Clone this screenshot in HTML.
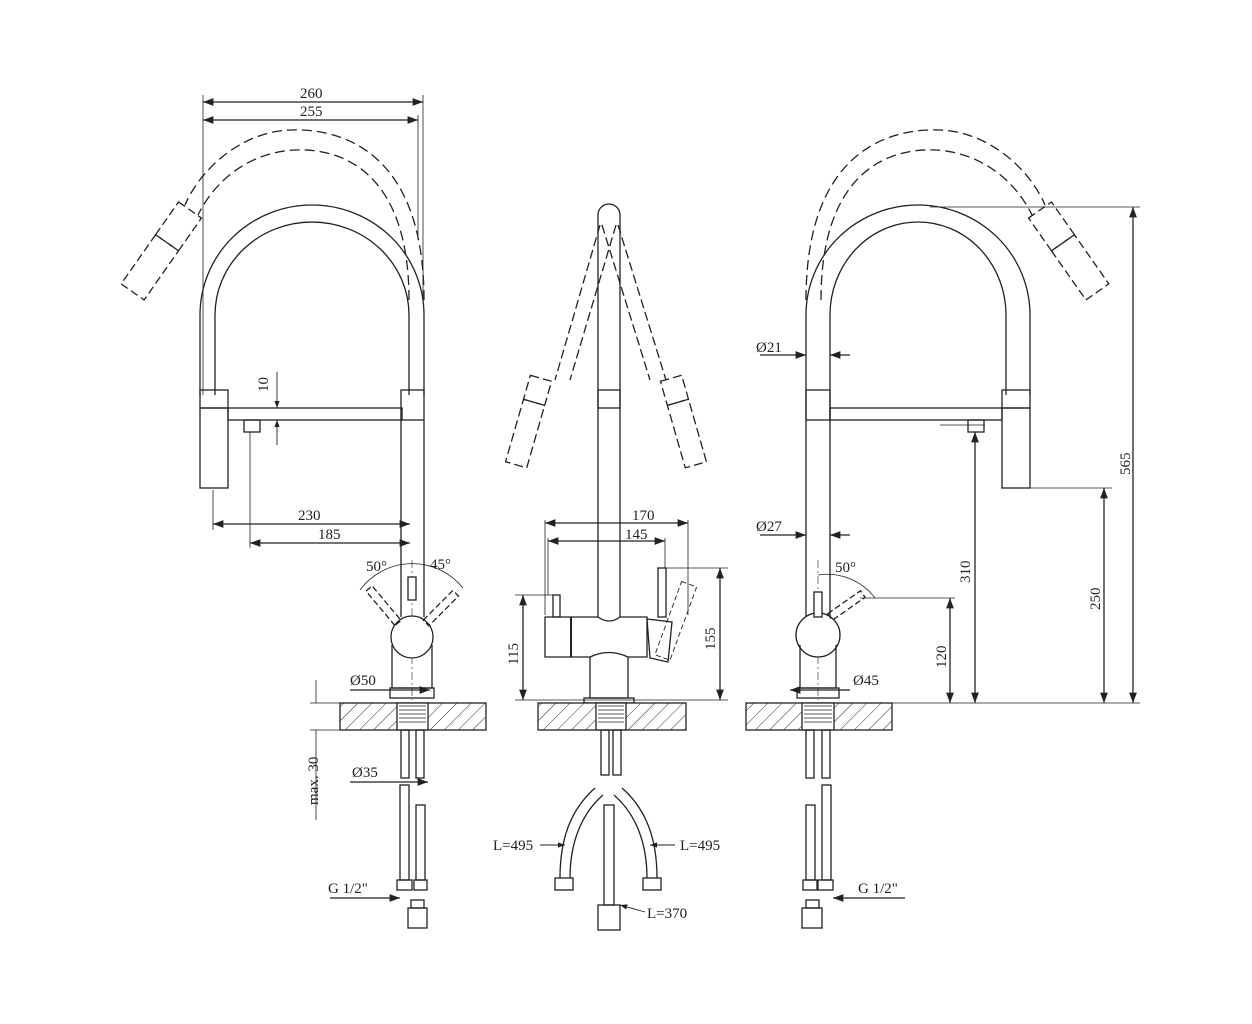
<!DOCTYPE html>
<html><head><meta charset="utf-8"><style>
html,body{margin:0;padding:0;background:#fff;}
svg{display:block;}
text{font-family:"Liberation Serif",serif;font-size:15px;fill:#222;}
</style></head><body>
<svg width="1252" height="1024" viewBox="0 0 1252 1024" xmlns="http://www.w3.org/2000/svg">
<defs>
<pattern id="h" width="10" height="10" patternUnits="userSpaceOnUse" patternTransform="rotate(45)">
<rect width="10" height="10" fill="#fff"/><line x1="0" y1="0" x2="0" y2="10" stroke="#333" stroke-width="1"/>
</pattern>
<marker id="a" markerWidth="8" markerHeight="6" refX="8" refY="3" orient="auto-start-reverse"><path d="M0,0 L8,3 L0,6" fill="#222"/></marker>
</defs>
<g fill="none" stroke="#222" stroke-width="1.3">

<!-- ================= LEFT VIEW ================= -->
<line x1="203" y1="102" x2="423" y2="102" marker-start="url(#a)" marker-end="url(#a)"/>
<line x1="203" y1="120" x2="418" y2="120" marker-start="url(#a)" marker-end="url(#a)"/>
<line x1="203" y1="95" x2="203" y2="395" stroke-width="0.8"/>
<line x1="423" y1="95" x2="423" y2="300" stroke-width="0.8"/>
<line x1="418" y1="115" x2="418" y2="240" stroke-width="0.8"/>
<path d="M200,395 L200,315 A112,110 0 0 1 424,315 L424,395"/>
<path d="M215,395 L215,315 A97,93 0 0 1 409,315 L409,395"/>
<path d="M424,300 C424,150 340,128 290,130 C240,132 200,170 185,205" stroke-dasharray="10,5"/>
<path d="M409,300 C409,170 340,148 295,150 C250,152 215,180 198,215" stroke-dasharray="10,5"/>
<g transform="translate(190,210) rotate(35)" stroke-dasharray="8,4"><rect x="-14" y="0" width="28" height="40"/><rect x="-14" y="40" width="28" height="60"/></g>
<rect x="200" y="390" width="28" height="18"/>
<rect x="200" y="408" width="28" height="80"/>
<rect x="228" y="408" width="174" height="12"/>
<rect x="244" y="420" width="16" height="12"/>
<rect x="401" y="390" width="23" height="30"/>
<line x1="401" y1="420" x2="401" y2="617"/>
<line x1="424" y1="420" x2="424" y2="617"/>
<line x1="412" y1="560" x2="412" y2="700" stroke-width="0.6" stroke-dasharray="8,3,2,3"/>
<line x1="277" y1="372" x2="277" y2="408" marker-end="url(#a)" stroke-width="0.9"/>
<line x1="277" y1="445" x2="277" y2="420" marker-end="url(#a)" stroke-width="0.9"/>
<line x1="213" y1="490" x2="213" y2="530" stroke-width="0.8"/>
<line x1="250" y1="432" x2="250" y2="548" stroke-width="0.8"/>
<line x1="213" y1="524" x2="410" y2="524" marker-start="url(#a)" marker-end="url(#a)"/>
<line x1="250" y1="543" x2="410" y2="543" marker-start="url(#a)" marker-end="url(#a)"/>
<circle cx="412" cy="637" r="21" fill="#fff"/>
<rect x="408" y="577" width="8" height="23" fill="#fff"/>
<path d="M392,645 L392,688 L432,688 L432,645"/>
<rect x="390" y="688" width="44" height="10"/>
<path d="M360,590 A65,65 0 0 1 463,588" stroke-width="0.8"/>
<g transform="translate(398,623) rotate(-130)"><rect x="0" y="-4" width="45" height="8" stroke-dasharray="6,3"/></g>
<g transform="translate(426,623) rotate(-45)"><rect x="0" y="-4" width="42" height="8" stroke-dasharray="6,3"/></g>
<rect x="340" y="703" width="146" height="27" fill="url(#h)"/>
<rect x="397" y="703" width="31" height="27" fill="#fff"/>
<path d="M399,706 h27 M399,710 h27 M399,714 h27 M399,718 h27 M399,722 h27" stroke-width="0.8"/>
<rect x="401" y="730" width="8" height="48"/><rect x="416" y="730" width="8" height="48"/>
<line x1="316" y1="680" x2="316" y2="703" stroke-width="0.8"/>
<line x1="310" y1="703" x2="340" y2="703" stroke-width="0.8"/>
<line x1="310" y1="730" x2="340" y2="730" stroke-width="0.8"/>
<line x1="316" y1="730" x2="316" y2="820" stroke-width="0.8"/>
<line x1="350" y1="690" x2="430" y2="690" marker-end="url(#a)"/>
<line x1="350" y1="782" x2="428" y2="782" marker-end="url(#a)"/>
<rect x="400" y="785" width="9" height="95"/><rect x="416" y="805" width="9" height="75"/>
<rect x="397" y="880" width="15" height="10"/><rect x="414" y="880" width="13" height="10"/>
<rect x="411" y="900" width="13" height="8"/><rect x="408" y="908" width="19" height="20"/>
<line x1="330" y1="898" x2="400" y2="898" marker-end="url(#a)"/>

<!-- ================= MIDDLE VIEW ================= -->
<path d="M598,617 L598,215 A11,11 0 0 1 620,215 L620,617"/>
<rect x="598" y="390" width="22" height="18"/>
<g stroke-dasharray="9,4">
<line x1="600" y1="225" x2="555" y2="380"/><line x1="616" y1="225" x2="570" y2="380"/>
<line x1="602" y1="225" x2="650" y2="380"/><line x1="618" y1="225" x2="666" y2="380"/>
<g transform="translate(540,378) rotate(16)"><rect x="-10" y="0" width="22" height="25"/><rect x="-10" y="25" width="22" height="65"/></g>
<g transform="translate(672,378) rotate(-16)"><rect x="-12" y="0" width="22" height="25"/><rect x="-12" y="25" width="22" height="65"/></g>
</g>
<path d="M545,617 L598,617 Q609,625 620,617 L647,617 L647,657 L628,657 Q609,648 590,657 L545,657 Z" fill="#fff"/>
<line x1="571" y1="617" x2="571" y2="657" stroke-width="2"/>
<rect x="553" y="595" width="7" height="22"/>
<rect x="658" y="568" width="8" height="49"/>
<path d="M647,619 L672,622 L668,662 L650,658 Z"/>
<g transform="translate(658,658) rotate(20)"><rect x="-4" y="-80" width="16" height="78" stroke-dasharray="5,3" stroke-width="0.9"/></g>
<path d="M590,657 L590,698 L628,698 L628,657"/>
<rect x="584" y="698" width="50" height="5"/>
<rect x="538" y="703" width="148" height="27" fill="url(#h)"/>
<rect x="596" y="703" width="30" height="27" fill="#fff"/>
<path d="M598,706 h26 M598,710 h26 M598,714 h26 M598,718 h26 M598,722 h26" stroke-width="0.8"/>
<rect x="601" y="730" width="8" height="45"/><rect x="613" y="730" width="8" height="45"/>
<line x1="545" y1="520" x2="545" y2="615" stroke-width="0.8"/><line x1="688" y1="520" x2="688" y2="615" stroke-width="0.8"/>
<line x1="548" y1="538" x2="548" y2="595" stroke-width="0.8"/><line x1="665" y1="538" x2="665" y2="568" stroke-width="0.8"/>
<line x1="545" y1="523" x2="688" y2="523" marker-start="url(#a)" marker-end="url(#a)"/>
<line x1="548" y1="541" x2="665" y2="541" marker-start="url(#a)" marker-end="url(#a)"/>
<line x1="523" y1="595" x2="523" y2="700" marker-start="url(#a)" marker-end="url(#a)"/>
<line x1="720" y1="568" x2="720" y2="700" marker-start="url(#a)" marker-end="url(#a)"/>
<line x1="515" y1="595" x2="553" y2="595" stroke-width="0.8"/>
<line x1="666" y1="568" x2="728" y2="568" stroke-width="0.8"/>
<line x1="515" y1="700" x2="728" y2="700" stroke-width="0.8"/>
<path d="M595,788 C570,810 560,840 560,878"/><path d="M603,795 C580,815 570,845 570,878"/>
<path d="M622,788 C647,810 657,840 657,878"/><path d="M614,795 C637,815 647,845 647,878"/>
<rect x="604" y="805" width="10" height="100"/>
<rect x="555" y="878" width="18" height="12"/><rect x="643" y="878" width="18" height="12"/>
<rect x="598" y="905" width="22" height="25"/>
<line x1="540" y1="845" x2="565" y2="845" marker-end="url(#a)" stroke-width="0.9"/>
<line x1="675" y1="845" x2="650" y2="845" marker-end="url(#a)" stroke-width="0.9"/>
<line x1="645" y1="912" x2="620" y2="905" marker-end="url(#a)" stroke-width="0.9"/>

<!-- ================= RIGHT VIEW ================= -->
<path d="M806,617 L806,315 A112,110 0 0 1 1030,315 L1030,395"/>
<path d="M830,617 L830,315 A88,93 0 0 1 1006,315 L1006,395"/>
<path d="M806,300 C806,150 890,128 940,130 C990,132 1030,170 1045,205" stroke-dasharray="10,5"/>
<path d="M821,300 C821,170 890,148 935,150 C980,152 1015,180 1032,215" stroke-dasharray="10,5"/>
<g transform="translate(1040,210) rotate(-35)" stroke-dasharray="8,4"><rect x="-14" y="0" width="28" height="40"/><rect x="-14" y="40" width="28" height="60"/></g>
<rect x="806" y="390" width="24" height="30"/>
<rect x="1002" y="390" width="28" height="18"/>
<rect x="1002" y="408" width="28" height="80"/>
<rect x="830" y="408" width="172" height="12"/>
<rect x="968" y="420" width="16" height="12"/>
<line x1="760" y1="355" x2="806" y2="355" marker-end="url(#a)"/><line x1="850" y1="355" x2="830" y2="355" marker-end="url(#a)"/>
<line x1="760" y1="535" x2="806" y2="535" marker-end="url(#a)"/><line x1="850" y1="535" x2="830" y2="535" marker-end="url(#a)"/>
<line x1="818" y1="560" x2="818" y2="700" stroke-width="0.6" stroke-dasharray="8,3,2,3"/>
<circle cx="818" cy="635" r="22" fill="#fff"/>
<rect x="814" y="592" width="8" height="25" fill="#fff"/>
<path d="M800,645 L800,688 L836,688 L836,645"/>
<rect x="797" y="688" width="42" height="10"/>
<path d="M818,575 A60,60 0 0 1 875,598" stroke-width="0.8"/>
<g transform="translate(830,617) rotate(-35)"><rect x="0" y="-4" width="40" height="8" stroke-dasharray="6,3"/></g>
<rect x="746" y="703" width="146" height="27" fill="url(#h)"/>
<rect x="802" y="703" width="32" height="27" fill="#fff"/>
<path d="M804,706 h28 M804,710 h28 M804,714 h28 M804,718 h28 M804,722 h28" stroke-width="0.8"/>
<rect x="806" y="730" width="8" height="48"/><rect x="822" y="730" width="8" height="48"/>
<line x1="790" y1="690" x2="836" y2="690" marker-start="url(#a)"/>
<line x1="850" y1="690" x2="836" y2="690"/>
<rect x="806" y="805" width="9" height="75"/><rect x="822" y="785" width="9" height="95"/>
<rect x="803" y="880" width="14" height="10"/><rect x="818" y="880" width="15" height="10"/>
<rect x="806" y="900" width="13" height="8"/><rect x="802" y="908" width="20" height="20"/>
<line x1="905" y1="898" x2="833" y2="898" marker-end="url(#a)"/>
<line x1="930" y1="207" x2="1140" y2="207" stroke-width="0.8"/>
<line x1="1030" y1="488" x2="1112" y2="488" stroke-width="0.8"/>
<line x1="940" y1="425" x2="985" y2="425" stroke-width="0.8"/>
<line x1="860" y1="598" x2="955" y2="598" stroke-width="0.8"/>
<line x1="892" y1="703" x2="1140" y2="703" stroke-width="0.8"/>
<line x1="1133" y1="207" x2="1133" y2="703" marker-start="url(#a)" marker-end="url(#a)"/>
<line x1="1104" y1="488" x2="1104" y2="703" marker-start="url(#a)" marker-end="url(#a)"/>
<line x1="975" y1="432" x2="975" y2="703" marker-start="url(#a)" marker-end="url(#a)"/>
<line x1="950" y1="598" x2="950" y2="703" marker-start="url(#a)" marker-end="url(#a)"/>
</g>

<text x="300" y="98">260</text>
<text x="300" y="116">255</text>
<text x="268" y="392" transform="rotate(-90 268 392)">10</text>
<text x="298" y="520">230</text>
<text x="318" y="539">185</text>
<text x="366" y="571">50°</text>
<text x="430" y="569">45°</text>
<text x="350" y="685">Ø50</text>
<text x="352" y="777">Ø35</text>
<text x="318" y="805" transform="rotate(-90 318 805)">max. 30</text>
<text x="328" y="893">G 1/2"</text>
<text x="632" y="520">170</text>
<text x="625" y="539">145</text>
<text x="518" y="665" transform="rotate(-90 518 665)">115</text>
<text x="715" y="650" transform="rotate(-90 715 650)">155</text>
<text x="493" y="850">L=495</text>
<text x="680" y="850">L=495</text>
<text x="647" y="918">L=370</text>
<text x="756" y="352">Ø21</text>
<text x="756" y="531">Ø27</text>
<text x="835" y="572">50°</text>
<text x="853" y="685">Ø45</text>
<text x="858" y="893">G 1/2"</text>
<text x="1130" y="475" transform="rotate(-90 1130 475)">565</text>
<text x="970" y="583" transform="rotate(-90 970 583)">310</text>
<text x="1100" y="610" transform="rotate(-90 1100 610)">250</text>
<text x="946" y="668" transform="rotate(-90 946 668)">120</text>
</svg>
</body></html>
